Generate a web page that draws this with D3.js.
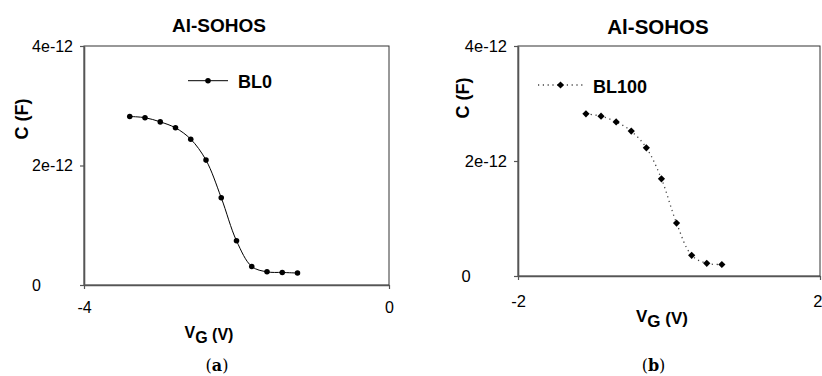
<!DOCTYPE html>
<html>
<head>
<meta charset="utf-8">
<script src="https://cdn.jsdelivr.net/npm/d3@7"></script>
<style>
body { margin: 0; background: #fff; }
svg { display: block; font-family: "Liberation Sans", Arial, sans-serif; }
</style>
</head>
<body>
<svg id="chart" width="822" height="376"></svg>
<script>
// gate voltage (V) and capacitance (F)
const vgA = [-3.4, -3.2, -3.0, -2.8, -2.6, -2.4, -2.2, -2.0, -1.8, -1.6, -1.4, -1.2];
const capA = [2.82e-12, 2.80e-12, 2.73e-12, 2.63e-12, 2.44e-12, 2.09e-12, 1.46e-12, 0.74e-12, 0.31e-12, 0.22e-12, 0.21e-12, 0.20e-12];
const vgB = [-1.1, -0.9, -0.7, -0.5, -0.3, -0.1, 0.1, 0.3, 0.5, 0.7];
const capB = [2.82e-12, 2.78e-12, 2.68e-12, 2.52e-12, 2.23e-12, 1.69e-12, 0.92e-12, 0.36e-12, 0.22e-12, 0.20e-12];

const capTicks = [0, 2e-12, 4e-12];
const vgTicksA = [-4, 0];
const vgTicksB = [-2, 2];
const titles = ["Al-SOHOS", "Al-SOHOS"];
const seriesNames = ["BL0", "BL100"];
const captions = ["a", "b"];

const svg = d3.select("#chart");
svg.append("rect").attr("width", 822).attr("height", 376).attr("fill", "#fff");

const fmtCap = d => d === 0 ? "0" : d3.format(".0e")(d).replace("\u2212", "-");
const fmtVg = d => String(d);

function drawPanel(p) {
    const g = svg.append("g");
    const x = d3.scaleLinear().domain(p.xDomain).range([p.left, p.right]);
    const y = d3.scaleLinear().domain([0, 4e-12]).range([p.bottom, p.top]);

    // thin frame round the plot area
    g.append("rect")
        .attr("x", p.left).attr("y", p.top)
        .attr("width", p.right - p.left).attr("height", p.bottom - p.top)
        .attr("fill", "none").attr("stroke", "#333").attr("stroke-width", 1);

    const yAxis = g.append("g")
        .attr("transform", `translate(${p.left},0)`)
        .call(d3.axisLeft(y).tickValues(capTicks).tickFormat(fmtCap).tickSize(4).tickSizeOuter(0).tickPadding(7));
    const xAxis = g.append("g")
        .attr("transform", `translate(0,${p.bottom})`)
        .call(d3.axisBottom(x).tickValues(p.xTicks).tickFormat(fmtVg).tickSize(4).tickSizeOuter(0).tickPadding(p.xPad));

    [yAxis, xAxis].forEach(a => {
        a.attr("font-family", null).attr("font-size", null);
        a.select(".domain").attr("stroke", "#555").attr("stroke-width", 1.6);
        a.selectAll(".tick line").attr("stroke", "#555").attr("stroke-width", 1.2);
        a.selectAll("text").attr("font-size", p.tickFont).attr("fill", "#000");
    });

    // the "0" label sits left-aligned with the other labels
    yAxis.selectAll(".tick text").each(function () {
        if (this.textContent === "0") {
            d3.select(this).attr("text-anchor", "start").attr("x", p.zeroX);
        }
    });
    // last x label is pushed inside the page edge
    if (p.lastInside) {
        xAxis.selectAll(".tick text").filter(d => d === p.xTicks[1])
            .attr("text-anchor", "end").attr("x", 822 - p.right);
    }

    // curve
    const line = d3.line()
        .x(d => x(d[0]))
        .y(d => y(d[1]))
        .curve(d3.curveCatmullRom);
    const pts = p.xs.map((v, i) => [v, p.ys[i]]);
    g.append("path").datum(pts)
        .attr("d", line)
        .attr("fill", "none")
        .attr("stroke", p.dotted ? "#444" : "#000")
        .attr("stroke-width", p.dotted ? 1.3 : 1)
        .attr("stroke-dasharray", p.dotted ? "1.2,3.6" : null);

    const sym = p.dotted
        ? d3.symbol().type(d3.symbolSquare).size(26)
        : d3.symbol().type(d3.symbolCircle).size(24);
    g.selectAll("path.mark").data(pts).enter().append("path")
        .attr("class", "mark")
        .attr("d", sym)
        .attr("transform", d => `translate(${x(d[0])},${y(d[1])})` + (p.dotted ? " rotate(45)" : ""))
        .attr("fill", "#000");

    // legend
    g.append("line")
        .attr("x1", p.leg.x1).attr("x2", p.leg.x2).attr("y1", p.leg.y).attr("y2", p.leg.y)
        .attr("stroke", p.dotted ? "#444" : "#000")
        .attr("stroke-width", p.dotted ? 1.3 : 1)
        .attr("stroke-dasharray", p.dotted ? "1.2,3.6" : null);
    g.append("path")
        .attr("d", sym)
        .attr("transform", `translate(${(p.leg.x1 + p.leg.x2) / 2},${p.leg.y})` + (p.dotted ? " rotate(45)" : ""))
        .attr("fill", "#000");
    g.append("text")
        .attr("x", p.leg.tx).attr("y", p.leg.ty)
        .attr("font-size", 18).attr("font-weight", "bold")
        .text(p.name);

    // titles
    g.append("text")
        .attr("x", p.titleX).attr("y", p.titleY)
        .attr("text-anchor", "middle").attr("font-size", p.titleFont).attr("font-weight", "bold")
        .text(p.title);

    g.append("text")
        .attr("transform", `translate(${p.yLab[0]},${p.yLab[1]}) rotate(-90)`)
        .attr("text-anchor", "middle").attr("font-size", 18).attr("font-weight", "bold")
        .text("C (F)");

    const xt = g.append("text")
        .attr("x", p.xLab[0]).attr("y", p.xLab[1])
        .attr("text-anchor", "middle").attr("font-size", p.xLabFont).attr("font-weight", "bold");
    xt.append("tspan").text("V");
    xt.append("tspan").attr("dy", 5).text("G");
    xt.append("tspan").attr("dy", -3).text(" (V)");

    const cap = g.append("text")
        .attr("x", p.capX).attr("y", 371)
        .attr("text-anchor", "middle").attr("font-size", 16)
        .attr("font-family", '"DejaVu Serif", "Liberation Serif", serif');
    cap.append("tspan").text("(");
    cap.append("tspan").attr("font-weight", "bold").text(p.caption);
    cap.append("tspan").text(")");
}

drawPanel({
    xs: vgA, ys: capA, xDomain: [-4, 0], xTicks: vgTicksA,
    left: 84, right: 389, top: 46, bottom: 285, xPad: 13, zeroX: -52,
    tickFont: 16, titleFont: 19, titleX: 219, titleY: 31.5, title: titles[0],
    yLab: [28, 119], xLab: [209, 338], xLabFont: 16,
    leg: { x1: 188, x2: 228, y: 80.7, tx: 238, ty: 88.3 },
    name: seriesNames[0], dotted: false, capX: 217, caption: captions[0]
});

drawPanel({
    xs: vgB, ys: capB, xDomain: [-2, 2], xTicks: vgTicksB,
    left: 518, right: 820, top: 46, bottom: 276, xPad: 15, zeroX: -56.5, lastInside: true,
    tickFont: 16.5, titleFont: 20.5, titleX: 658, titleY: 34, title: titles[1],
    yLab: [469, 98], xLab: [662, 321.5], xLabFont: 17,
    leg: { x1: 538, x2: 583, y: 85, tx: 593, ty: 93.3 },
    name: seriesNames[1], dotted: true, capX: 653.5, caption: captions[1]
});
</script>
</body>
</html>
